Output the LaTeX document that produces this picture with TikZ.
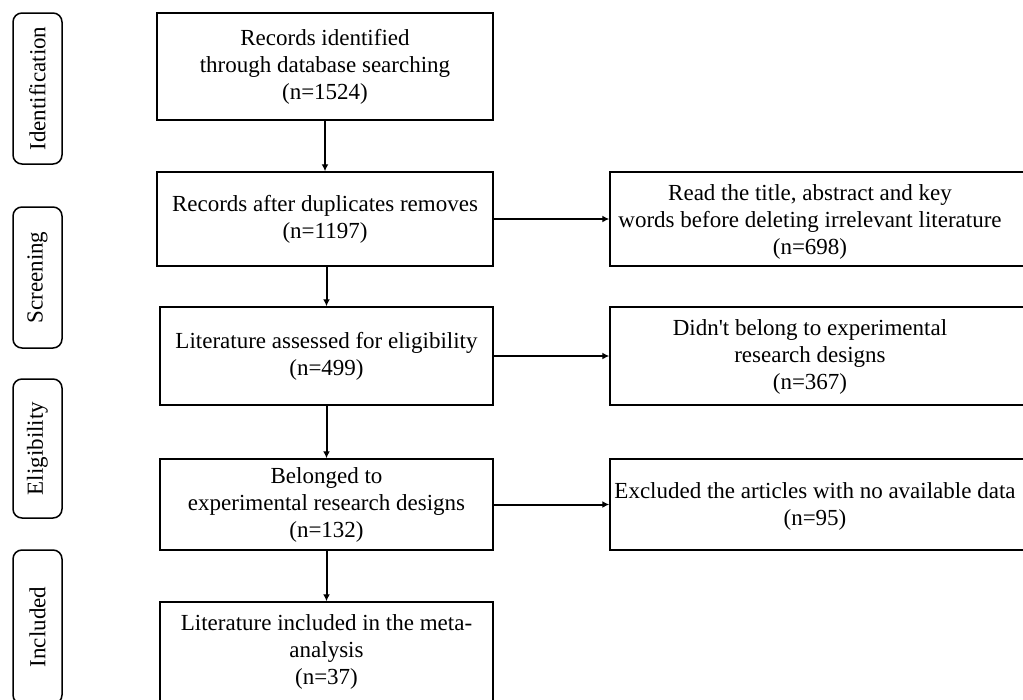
\documentclass[tikz,border=0pt]{standalone}
\usepackage{fontspec}
\setmainfont{Liberation Serif}
\usetikzlibrary{arrows.meta}
\begin{document}
\begin{tikzpicture}[x=1pt, y=-1pt,
        >={Latex[length=7pt, width=7pt]},
        font=\fontsize{23}{27}\selectfont,
        flowbox/.style={draw, line width=1.5pt, align=center, inner sep=0pt},
        framebox/.style={draw, line width=1.5pt, inner sep=0pt},
        phase/.style={draw, line width=1.5pt, rounded corners=9pt, rotate=90,
            minimum height=49pt, inner sep=0pt},
        link/.style={->, line width=2pt}]
            \useasboundingbox (0, 0) rectangle (1023, 699);
            \clip (0, 0) rectangle (1023, 699);

            \node[phase, minimum width=151pt] (ident) at (37.5, 88.5) {Identification};
            \node[phase, minimum width=141pt] (screen) at (37.5, 277.5) {Screening};
            \node[phase, minimum width=139pt] (elig) at (37.5, 448.5) {Eligibility};
            \node[phase, minimum width=154pt] (incl) at (37.5, 627) {Included};

            \node[flowbox, minimum width=336pt, minimum height=107pt] (found) at (325, 66.5)
                {Records identified\\through database searching\\(n=1524)};
            \node[flowbox, minimum width=336pt, minimum height=94pt] (dedup) at (325, 219)
                {Records after duplicates removes\\(n=1197)};
            \node[flowbox, minimum width=333pt, minimum height=98pt] (assess) at (326.5, 356)
                {Literature assessed for eligibility\\(n=499)};
            \node[flowbox, minimum width=333pt, minimum height=91pt] (design) at (326.5, 504.5)
                {Belonged to\\experimental research designs\\(n=132)};
            \node[flowbox, minimum width=333pt, minimum height=100pt] (meta) at (326.5, 652)
                {Literature included in the meta-\\analysis\\(n=37)};

            \node[framebox, minimum width=430pt, minimum height=94pt] (read) at (825, 219) {};
            \node[framebox, minimum width=430pt, minimum height=98pt] (notexp) at (825, 356) {};
            \node[framebox, minimum width=430pt, minimum height=91pt] (nodata) at (825, 504.5) {};
            \node[align=center] (readtxt) at (810, 222)
                {Read the title, abstract and key\\words before deleting irrelevant literature\\(n=698)};
            \node[align=center] (notexptxt) at (810, 357)
                {Didn\textquotesingle t belong to experimental\\research designs\\(n=367)};
            \node[align=center] (nodatatxt) at (815, 506)
                {Excluded the articles with no available data\\(n=95)};

            \draw[link] (found) -- (dedup);
            \draw[link] (dedup.south -| assess) -- (assess);
            \draw[link] (assess) -- (design);
            \draw[link] (design) -- (meta);
            \draw[link] (dedup) -- (read);
            \draw[link] (assess) -- (notexp);
            \draw[link] (design) -- (nodata);
        \end{tikzpicture}
\end{document}
